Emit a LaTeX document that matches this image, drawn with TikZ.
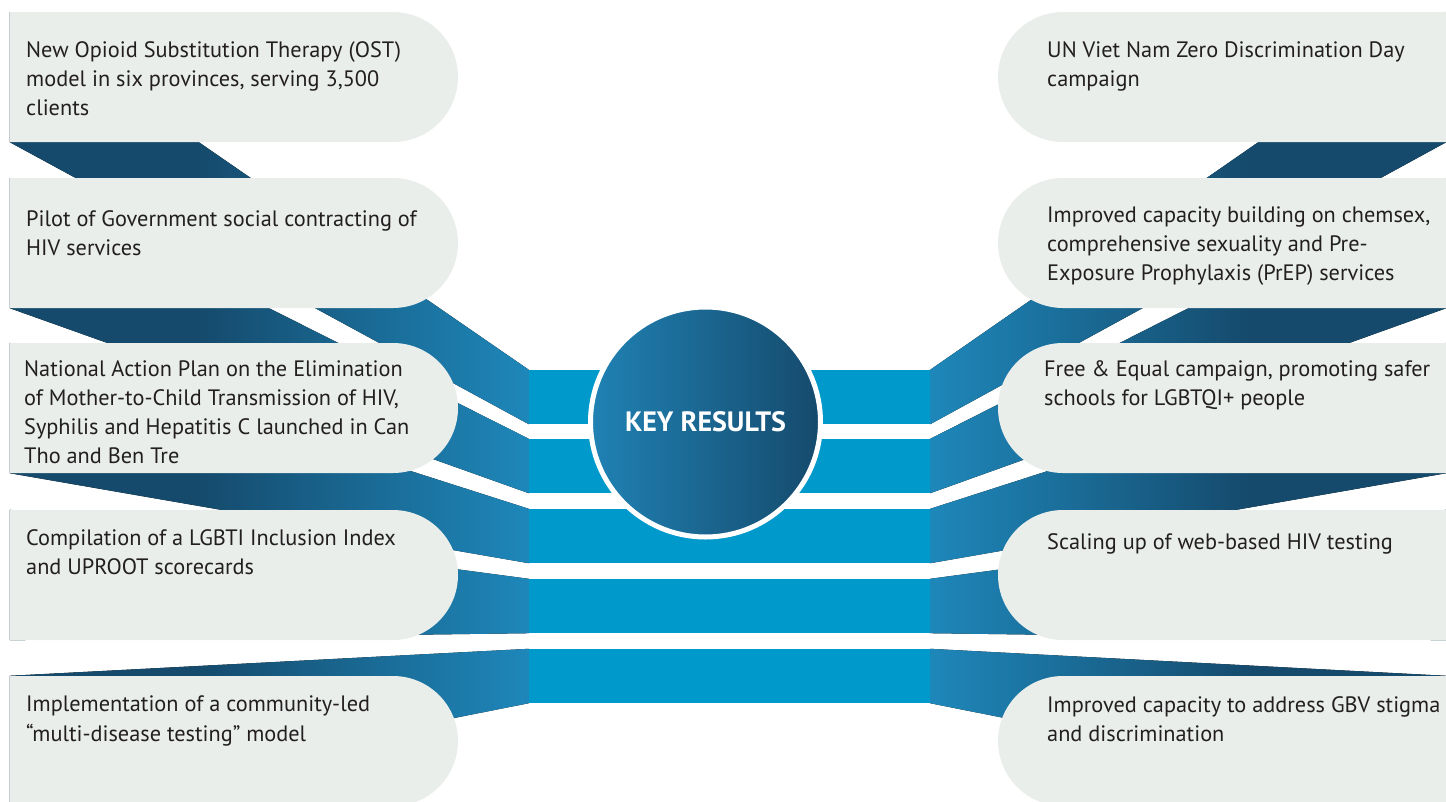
\documentclass[tikz,border=0pt]{standalone}
\usepackage{fontspec}
\setmainfont{PT Sans}
\usetikzlibrary{shapes.misc,backgrounds}

\definecolor{boxfill}{HTML}{E9EEEB}
\definecolor{barblue}{HTML}{0099CC}
\definecolor{bandDark}{HTML}{154A6C}
\definecolor{bandLight}{HTML}{1E87BA}
\definecolor{circL}{HTML}{2082B4}
\definecolor{circR}{HTML}{154A6C}
\definecolor{txt}{HTML}{231F20}

\pgfdeclarehorizontalshading{bandL}{100bp}{color(0bp)=(bandDark); color(25bp)=(bandDark); color(43bp)=(bandDark); color(75bp)=(bandLight); color(100bp)=(bandLight)}
\pgfdeclarehorizontalshading{bandR}{100bp}{color(0bp)=(bandLight); color(25bp)=(bandLight); color(56bp)=(bandDark); color(75bp)=(bandDark); color(100bp)=(bandDark)}

\begin{document}
\begin{tikzpicture}[x=1pt,y=-1pt]
	\tikzset{lbox/.style={rounded rectangle, rounded rectangle left arc=none, fill=boxfill, minimum width=448, minimum height=130, inner sep=0pt},
	rbox/.style={rounded rectangle, rounded rectangle right arc=none, fill=boxfill, minimum width=448, minimum height=130, inner sep=0pt},
	bar/.style={rectangle, fill=barblue, minimum width=401, minimum height=54, inner sep=0pt},
	boxtext/.style={anchor=north west, inner sep=0pt, align=left, text=txt, font=\fontsize{22.3}{29}\selectfont, execute at begin node=\strut},
	keyres/.style={circle, draw=white, line width=5pt, minimum size=230, left color=circL, right color=circR, text=white, font=\bfseries\fontsize{28}{32}\selectfont},
	bandleft/.style={shading=bandL},
	bandright/.style={shading=bandR}};

	\useasboundingbox (0,0) rectangle (1446,801);

	\foreach \i/\y in {1/397, 2/466, 3/536, 4/606, 5/676}{
		\node[bar] (b\i) at (729.5, \y) {};
	}

	\foreach \i/\y in {1/77, 2/243, 3/408, 4/575, 5/741}{
		\node[lbox] (L\i) at (234, \y) {};
		\node[rbox] (R\i) at (1222, \y) {};
	}

	\begin{scope}[on background layer]
		\foreach \i in {1, 2, 3, 4, 5}{
			\fill[bandleft] (L\i.west |- L\i.north) -- (b\i.north west) -- (b\i.south west) -- (L\i.west |- L\i.south) -- cycle;
			\fill[bandright] (b\i.north east) -- (R\i.east |- R\i.north) -- (R\i.east |- R\i.south) -- (b\i.south east) -- cycle;
		}
	\end{scope}

	\node[keyres] (key) at (705.5, 422) {KEY RESULTS};

	\node[boxtext] (lt1) at (26, 41) {New Opioid Substitution Therapy (OST)\\ model in six provinces, serving 3,500\\ clients};
	\node[boxtext] (lt2) at (26, 210) {Pilot of Government social contracting of\\ HIV services};
	\node[boxtext] (lt3) at (24, 360) {National Action Plan on the Elimination\\ of Mother-to-Child Transmission of HIV,\\ Syphilis and Hepatitis C launched in Can\\ Tho and Ben Tre};
	\node[boxtext] (lt4) at (26, 529) {Compilation of a LGBTI Inclusion Index\\ and UPROOT scorecards};
	\node[boxtext] (lt5) at (26, 696) {Implementation of a community-led\\ “multi-disease testing” model};

	\node[boxtext] (rt1) at (1047, 41) {UN Viet Nam Zero Discrimination Day\\ campaign};
	\node[boxtext] (rt2) at (1047, 207) {Improved capacity building on chemsex,\\ comprehensive sexuality and Pre-\\ Exposure Prophylaxis (PrEP) services};
	\node[boxtext] (rt3) at (1044, 360) {Free \& Equal campaign, promoting safer\\ schools for LGBTQI+ people};
	\node[boxtext] (rt4) at (1047, 529) {Scaling up of web-based HIV testing};
	\node[boxtext] (rt5) at (1047, 696) {Improved capacity to address GBV stigma\\ and discrimination};

\end{tikzpicture}
\end{document}
